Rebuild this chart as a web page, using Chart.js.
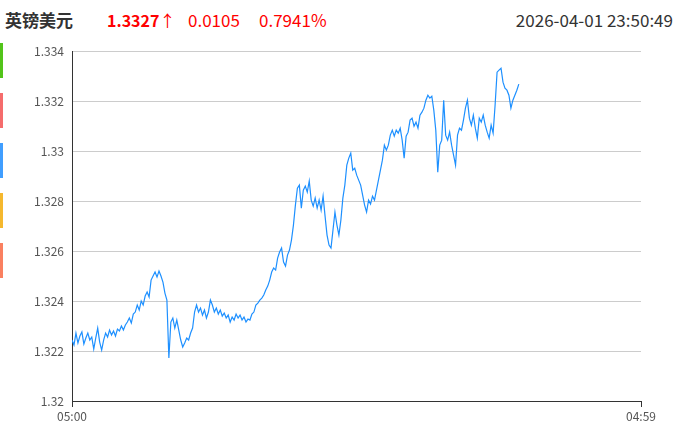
<!DOCTYPE html>
<html>
<head>
<meta charset="utf-8">
<script src="https://cdn.jsdelivr.net/npm/chart.js@4"></script>
<style>
  body { margin: 0; width: 680px; height: 431px; background: #fff; position: relative; overflow: hidden; font-family: "Noto Sans CJK SC", sans-serif; }
  .hd { position: absolute; top: 8px; font-size: 17px; line-height: 24px; white-space: nowrap; }
  .bar { position: absolute; left: 0; width: 3px; height: 35px; }
  #wrap { position: absolute; left: 0; top: 36px; width: 680px; height: 395px; }
</style>
</head>
<body>
<div class="hd" style="left:5px;font-weight:bold;color:#333">英镑美元</div>
<div class="hd" style="left:107px;font-size:16px;font-weight:bold;color:#f00">1.3327<span style="font-weight:normal">↑</span></div>
<div class="hd" style="left:188px;color:#f00">0.0105</div>
<div class="hd" style="left:259px;color:#f00">0.7941%</div>
<div class="hd" style="right:7px;color:#333">2026-04-01 23:50:49</div>

<div class="bar" style="top:43px;background:#52c41a"></div>
<div class="bar" style="top:93px;background:#f56c6c"></div>
<div class="bar" style="top:143px;background:#409eff"></div>
<div class="bar" style="top:193px;background:#f5b82e"></div>
<div class="bar" style="top:243px;background:#fa8060"></div>

<div id="wrap"><canvas id="c"></canvas></div>

<script>
// 英镑美元 分时, 每5分钟一个点 (05:00 起)
const stepMinutes = 5;
const xLabels = ['05:00', '04:59'];
const yTicks = [1.32, 1.322, 1.324, 1.326, 1.328, 1.33, 1.332, 1.334];
const prices = [
  1.32244, 1.32224, 1.32272, 1.32232, 1.3226, 1.32276, 1.32228, 1.32252, 1.32272, 1.32244,
  1.32256, 1.32208, 1.32252, 1.32292, 1.32236, 1.32204, 1.32244, 1.32272, 1.32256, 1.32284,
  1.32264, 1.3228, 1.3226, 1.32288, 1.3228, 1.323, 1.32284, 1.32304, 1.32316, 1.32332,
  1.32312, 1.32348, 1.32356, 1.32384, 1.32364, 1.324, 1.32384, 1.3242, 1.32436, 1.32416,
  1.32484, 1.325, 1.32516, 1.32496, 1.3252, 1.325, 1.32476, 1.32432, 1.32404, 1.32172,
  1.32316, 1.32332, 1.32292, 1.32324, 1.32284, 1.32244, 1.32216, 1.32232, 1.32252, 1.32244,
  1.32272, 1.32292, 1.32356, 1.32384, 1.32356, 1.32372, 1.32344, 1.32364, 1.32332, 1.32356,
  1.32404, 1.32384, 1.32356, 1.32372, 1.32348, 1.32364, 1.3234, 1.32352, 1.32332, 1.32344,
  1.32316, 1.32336, 1.32324, 1.32348, 1.32332, 1.32344, 1.32324, 1.32336, 1.32316, 1.32328,
  1.32324, 1.32348, 1.32356, 1.32384, 1.32392, 1.32404, 1.32412, 1.32424, 1.32444, 1.3246,
  1.32484, 1.32516, 1.32532, 1.32524, 1.32572, 1.32596, 1.32612, 1.32556, 1.3254, 1.32584,
  1.32604, 1.32644, 1.32704, 1.32784, 1.32852, 1.32864, 1.32772, 1.32844, 1.3286, 1.32836,
  1.3288, 1.32804, 1.3278, 1.32812, 1.32772, 1.32804, 1.32764, 1.3282, 1.3274, 1.32664,
  1.32624, 1.32612, 1.32684, 1.32756, 1.32704, 1.32664, 1.32724, 1.32812, 1.32864, 1.32944,
  1.32972, 1.32992, 1.32924, 1.32932, 1.32904, 1.32884, 1.32864, 1.32824, 1.32784, 1.32756,
  1.32804, 1.32788, 1.3282, 1.32804, 1.32844, 1.32884, 1.32924, 1.32964, 1.33024, 1.33004,
  1.33024, 1.33064, 1.33084, 1.3306, 1.33084, 1.33072, 1.33092, 1.33044, 1.32972, 1.3306,
  1.33076, 1.33124, 1.33132, 1.331, 1.33116, 1.33092, 1.33144, 1.33156, 1.33172, 1.33204,
  1.33224, 1.33212, 1.3322, 1.33164, 1.33084, 1.32916, 1.33024, 1.33044, 1.33204, 1.33064,
  1.33044, 1.33076, 1.33024, 1.32984, 1.32944, 1.33064, 1.33092, 1.33084, 1.33124, 1.33172,
  1.33204, 1.33132, 1.33104, 1.33144, 1.33092, 1.33052, 1.33132, 1.33116, 1.33144, 1.33104,
  1.33076, 1.33052, 1.33104, 1.33072, 1.33184, 1.33316, 1.33324, 1.33332, 1.33276, 1.33252,
  1.33244, 1.33224, 1.33172, 1.33204, 1.33224, 1.33244, 1.33268
];

const points = prices.map((v, i) => ({ x: i * stepMinutes, y: v }));

const tickFont = { family: '"Noto Sans CJK SC", sans-serif', size: 12 };

new Chart(document.getElementById('c'), {
  type: 'line',
  data: {
    datasets: [{
      data: points,
      borderColor: '#1e90ff',
      borderWidth: 1.2,
      pointRadius: 0,
      tension: 0,
      fill: false
    }]
  },
  options: {
    responsive: true,
    maintainAspectRatio: false,
    animation: false,
    layout: { padding: { top: 8, right: 39, left: 0, bottom: 0 } },
    plugins: { legend: { display: false }, tooltip: { enabled: false } },
    scales: {
      x: {
        type: 'linear',
        min: 0,
        max: 1439,
        afterBuildTicks: s => { s.ticks = [{ value: 0 }, { value: 1439 }]; },
        afterFit: s => { s.height = 30; },
        ticks: {
          color: '#555',
          font: tickFont,
          padding: 2,
          maxRotation: 0,
          callback: (v, i) => xLabels[i]
        },
        grid: { drawOnChartArea: false, drawTicks: true, tickLength: 6, color: '#333' },
        border: { color: '#333', width: 1 }
      },
      y: {
        min: 1.32,
        max: 1.334,
        afterBuildTicks: s => { s.ticks = yTicks.map(v => ({ value: v })); },
        afterFit: s => { s.width = 72; },
        ticks: {
          color: '#555',
          font: tickFont,
          padding: 8,
          callback: v => String(Number(v.toFixed(3)))
        },
        grid: { color: '#ccc', drawTicks: false },
        border: { color: '#333', width: 1 }
      }
    }
  }
});
</script>
</body>
</html>
